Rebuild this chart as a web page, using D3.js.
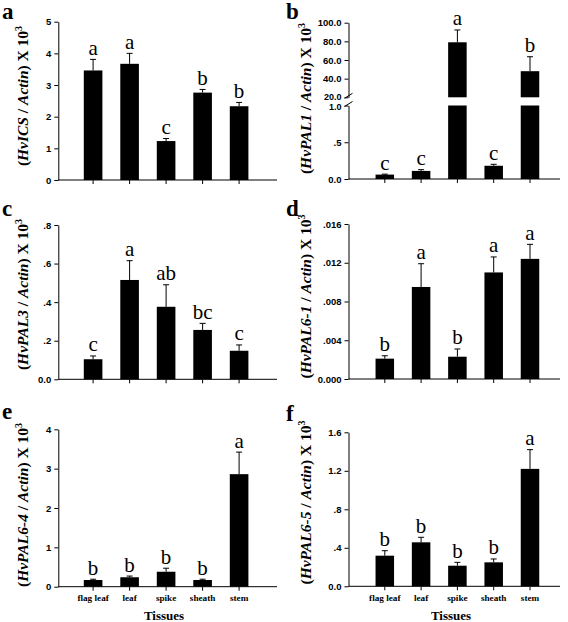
<!DOCTYPE html>
<html><head><meta charset="utf-8">
<script src="https://cdn.jsdelivr.net/npm/d3@7"></script>
<style>body{margin:0;background:#fff}svg{display:block}</style>
</head><body>
<svg id="c" width="568" height="622"></svg>
<script>
// ---------------- data ----------------
const categories = ["flag leaf", "leaf", "spike", "sheath", "stem"];

const icsMean = [3.46, 3.67, 1.23, 2.76, 2.33];
const icsErr = [0.35, 0.33, 0.08, 0.10, 0.12];
const icsLetters = ["a", "a", "c", "b", "b"];
const icsTicks = [0, 1, 2, 3, 4, 5];
const icsTickLabels = ["0", "1", "2", "3", "4", "5"];

const pal1Mean = [0.06, 0.11, 79, 0.18, 48];
const pal1Err = [0.006, 0.017, 13.2, 0.02, 15.5];
const pal1Letters = ["c", "c", "a", "c", "b"];
const pal1LowTicks = [0, 0.5, 1.0];
const pal1LowTickLabels = ["0.0", ".5", "1.0"];
const pal1HighTicks = [20, 40, 60, 80, 100];
const pal1HighTickLabels = ["20.0", "40.0", "60.0", "80.0", "100.0"];

const pal3Mean = [0.104, 0.515, 0.376, 0.256, 0.148];
const pal3Err = [0.017, 0.100, 0.114, 0.034, 0.030];
const pal3Letters = ["c", "a", "ab", "bc", "c"];
const pal3Ticks = [0, 0.2, 0.4, 0.6, 0.8];
const pal3TickLabels = ["0.0", ".2", ".4", ".6", ".8"];

const pal61Mean = [0.0021, 0.0095, 0.0023, 0.0110, 0.0124];
const pal61Err = [0.0003, 0.0024, 0.0008, 0.0016, 0.0015];
const pal61Letters = ["b", "a", "b", "a", "a"];
const pal61Ticks = [0, 0.004, 0.008, 0.012, 0.016];
const pal61TickLabels = ["0.000", ".004", ".008", ".012", ".016"];

const pal64Mean = [0.17, 0.24, 0.38, 0.17, 2.86];
const pal64Err = [0.02, 0.03, 0.09, 0.02, 0.56];
const pal64Letters = ["b", "b", "b", "b", "a"];
const pal64Ticks = [0, 1, 2, 3, 4];
const pal64TickLabels = ["0", "1", "2", "3", "4"];

const pal65Mean = [0.318, 0.457, 0.214, 0.249, 1.22];
const pal65Err = [0.052, 0.052, 0.035, 0.035, 0.20];
const pal65Letters = ["b", "b", "b", "b", "a"];
const pal65Ticks = [0, 0.4, 0.8, 1.2, 1.6];
const pal65TickLabels = ["0.0", ".4", ".8", "1.2", "1.6"];

const panelLetters = ["a", "b", "c", "d", "e", "f"];
const genes = ["HvICS", "HvPAL1", "HvPAL3", "HvPAL6-1", "HvPAL6-4", "HvPAL6-5"];
const xTitle = "Tissues";

// ---------------- drawing ----------------
const svg = d3.select("#c");
const serif = "'Liberation Serif','Times New Roman',Times,serif";
const sans = "'Liberation Sans',Arial,Helvetica,sans-serif";

const colL = { r0: 56.6, step: 36.5, axisX: 58.3, axisEnd: 277, labelX: 28, letterX: 2, titleX: 164 };
const colR = { r0: 348.5, step: 36.3, axisX: 348.5, axisEnd: 560, labelX: 311, letterX: 286, titleX: 451 };

function makeX(col) {
  return d3.scaleBand().domain(categories)
    .range([col.r0, col.r0 + 6 * col.step])
    .paddingInner(0.49).paddingOuter(0.745);
}

function yAxis(g, col, y, ticks, labels) {
  const ax = g.append("g")
    .attr("transform", `translate(${col.axisX},0)`)
    .call(d3.axisLeft(y).tickValues(ticks)
      .tickFormat((d, i) => labels[i]).tickSize(4).tickSizeOuter(0).tickPadding(3));
  ax.selectAll("path,line").attr("stroke", "#000").attr("stroke-width", 1);
  ax.selectAll("text").attr("font-family", sans).attr("font-weight", "bold")
    .attr("font-size", 9.5).attr("fill", "#000");
  return ax;
}

function xAxis(g, col, x, y0, showLabels) {
  const ax = g.append("g")
    .attr("transform", `translate(0,${y0})`)
    .call(d3.axisBottom(x).tickSize(4).tickSizeOuter(0).tickPadding(4)
      .tickFormat(showLabels ? (d => d) : () => ""));
  ax.select(".domain").remove();
  ax.selectAll("line").attr("stroke", "#000");
  ax.selectAll("text").attr("font-family", serif).attr("font-weight", "bold")
    .attr("font-size", 9.2).attr("fill", "#000");
  g.append("line").attr("x1", col.axisX).attr("x2", col.axisEnd)
    .attr("y1", y0).attr("y2", y0).attr("stroke", "#000");
}

function yLabel(g, col, cy, gene) {
  const t = g.append("text")
    .attr("transform", `translate(${col.labelX},${cy}) rotate(-90)`)
    .attr("text-anchor", "middle")
    .attr("font-family", serif).attr("font-weight", "bold")
    .attr("font-size", 15.5).attr("fill", "#000");
  t.append("tspan").text("(");
  t.append("tspan").attr("font-style", "italic").text(gene);
  t.append("tspan").text(" / ");
  t.append("tspan").attr("font-style", "italic").text("Actin");
  t.append("tspan").text(") X 10");
  t.append("tspan").attr("font-size", 10).attr("dy", -6).text("3");
}

function panelLetter(g, col, yb, letter) {
  g.append("text").attr("x", col.letterX).attr("y", yb)
    .attr("font-family", serif).attr("font-weight", "bold")
    .attr("font-size", 23).attr("fill", "#000").text(letter);
}

function errorsAndLetters(g, x, yFor, means, errs, letters) {
  const cx = d => x(d) + x.bandwidth() / 2;
  categories.forEach((c, i) => {
    const ys = yFor(means[i]);
    const yb = ys(means[i]);
    const yt = ys(means[i] + errs[i]);
    g.append("line").attr("x1", cx(c)).attr("x2", cx(c)).attr("y1", yb).attr("y2", yt)
      .attr("stroke", "#000").attr("stroke-width", 1);
    g.append("line").attr("x1", cx(c) - 3).attr("x2", cx(c) + 3).attr("y1", yt).attr("y2", yt)
      .attr("stroke", "#000").attr("stroke-width", 1);
    g.append("text").attr("x", cx(c)).attr("y", yt - 4.5)
      .attr("text-anchor", "middle").attr("font-family", serif)
      .attr("font-size", 21).attr("fill", "#000").text(letters[i]);
  });
}

function simplePanel(col, yRange, domainMax, means, errs, letters, ticks, labels, gene, letter, letterY, labelCY, showX) {
  const g = svg.append("g");
  const x = makeX(col);
  const y = d3.scaleLinear().domain([0, domainMax]).range(yRange);
  g.selectAll("rect.bar").data(categories).join("rect").attr("class", "bar")
    .attr("x", d => x(d)).attr("width", x.bandwidth())
    .attr("y", (d, i) => y(means[i]))
    .attr("height", (d, i) => y(0) - y(means[i]))
    .attr("fill", "#000");
  errorsAndLetters(g, x, () => y, means, errs, letters);
  yAxis(g, col, y, ticks, labels);
  xAxis(g, col, x, y(0), showX);
  yLabel(g, col, labelCY, gene);
  panelLetter(g, col, letterY, letter);
  if (showX) {
    g.append("text").attr("x", col.titleX).attr("y", 619.5)
      .attr("text-anchor", "middle").attr("font-family", serif)
      .attr("font-weight", "bold").attr("font-size", 13).attr("fill", "#000").text(xTitle);
  }
}

// panel a
simplePanel(colL, [180, 21.7], 5, icsMean, icsErr, icsLetters, icsTicks, icsTickLabels,
  genes[0], panelLetters[0], 19, 96, false);

// panel b (broken axis)
(function () {
  const col = colR;
  const g = svg.append("g");
  const x = makeX(col);
  const yLow = d3.scaleLinear().domain([0, 1]).range([179, 105.5]);
  const yHigh = d3.scaleLinear().domain([20, 100]).range([97.3, 22.7]);
  const brk = 1;
  categories.forEach((c, i) => {
    const v = pal1Mean[i];
    if (v > brk) {
      g.append("rect").attr("x", x(c)).attr("width", x.bandwidth())
        .attr("y", yLow(1)).attr("height", yLow(0) - yLow(1)).attr("fill", "#000");
      g.append("rect").attr("x", x(c)).attr("width", x.bandwidth())
        .attr("y", yHigh(v)).attr("height", yHigh(20) - yHigh(v)).attr("fill", "#000");
    } else {
      g.append("rect").attr("x", x(c)).attr("width", x.bandwidth())
        .attr("y", yLow(v)).attr("height", yLow(0) - yLow(v)).attr("fill", "#000");
    }
  });
  errorsAndLetters(g, x, v => (v > brk ? yHigh : yLow), pal1Mean, pal1Err, pal1Letters);
  const axLow = yAxis(g, col, yLow, pal1LowTicks, pal1LowTickLabels);
  const axHigh = yAxis(g, col, yHigh, pal1HighTicks, pal1HighTickLabels);
  // nudge the two labels at the break apart a little
  axLow.selectAll(".tick").filter(d => d === 1).select("text").attr("font-size", 9).attr("dy", "0.45em");
  axHigh.selectAll(".tick").filter(d => d === 20).select("text").attr("font-size", 9).attr("dy", "0.2em");
  [yHigh(20) - 1.5, yLow(1) - 1.5].forEach(yy => {
    g.append("line").attr("x1", col.axisX - 4).attr("x2", col.axisX + 4)
      .attr("y1", yy + 2.5).attr("y2", yy - 2.5).attr("stroke", "#000");
  });
  xAxis(g, col, x, yLow(0), false);
  yLabel(g, col, 98.5, genes[1]);
  panelLetter(g, col, 19, panelLetters[1]);
})();

// panel c
simplePanel(colL, [379.3, 225], 0.8, pal3Mean, pal3Err, pal3Letters, pal3Ticks, pal3TickLabels,
  genes[2], panelLetters[2], 216, 294.5, false);
// panel d
simplePanel(colR, [379, 224], 0.016, pal61Mean, pal61Err, pal61Letters, pal61Ticks, pal61TickLabels,
  genes[3], panelLetters[3], 216, 296.5, false);
// panel e
simplePanel(colL, [586.7, 429.3], 4, pal64Mean, pal64Err, pal64Letters, pal64Ticks, pal64TickLabels,
  genes[4], panelLetters[4], 419, 505, true);
// panel f
simplePanel(colR, [586.3, 432.3], 1.6, pal65Mean, pal65Err, pal65Letters, pal65Ticks, pal65TickLabels,
  genes[5], panelLetters[5], 421, 502.5, true);
</script>
</body></html>
